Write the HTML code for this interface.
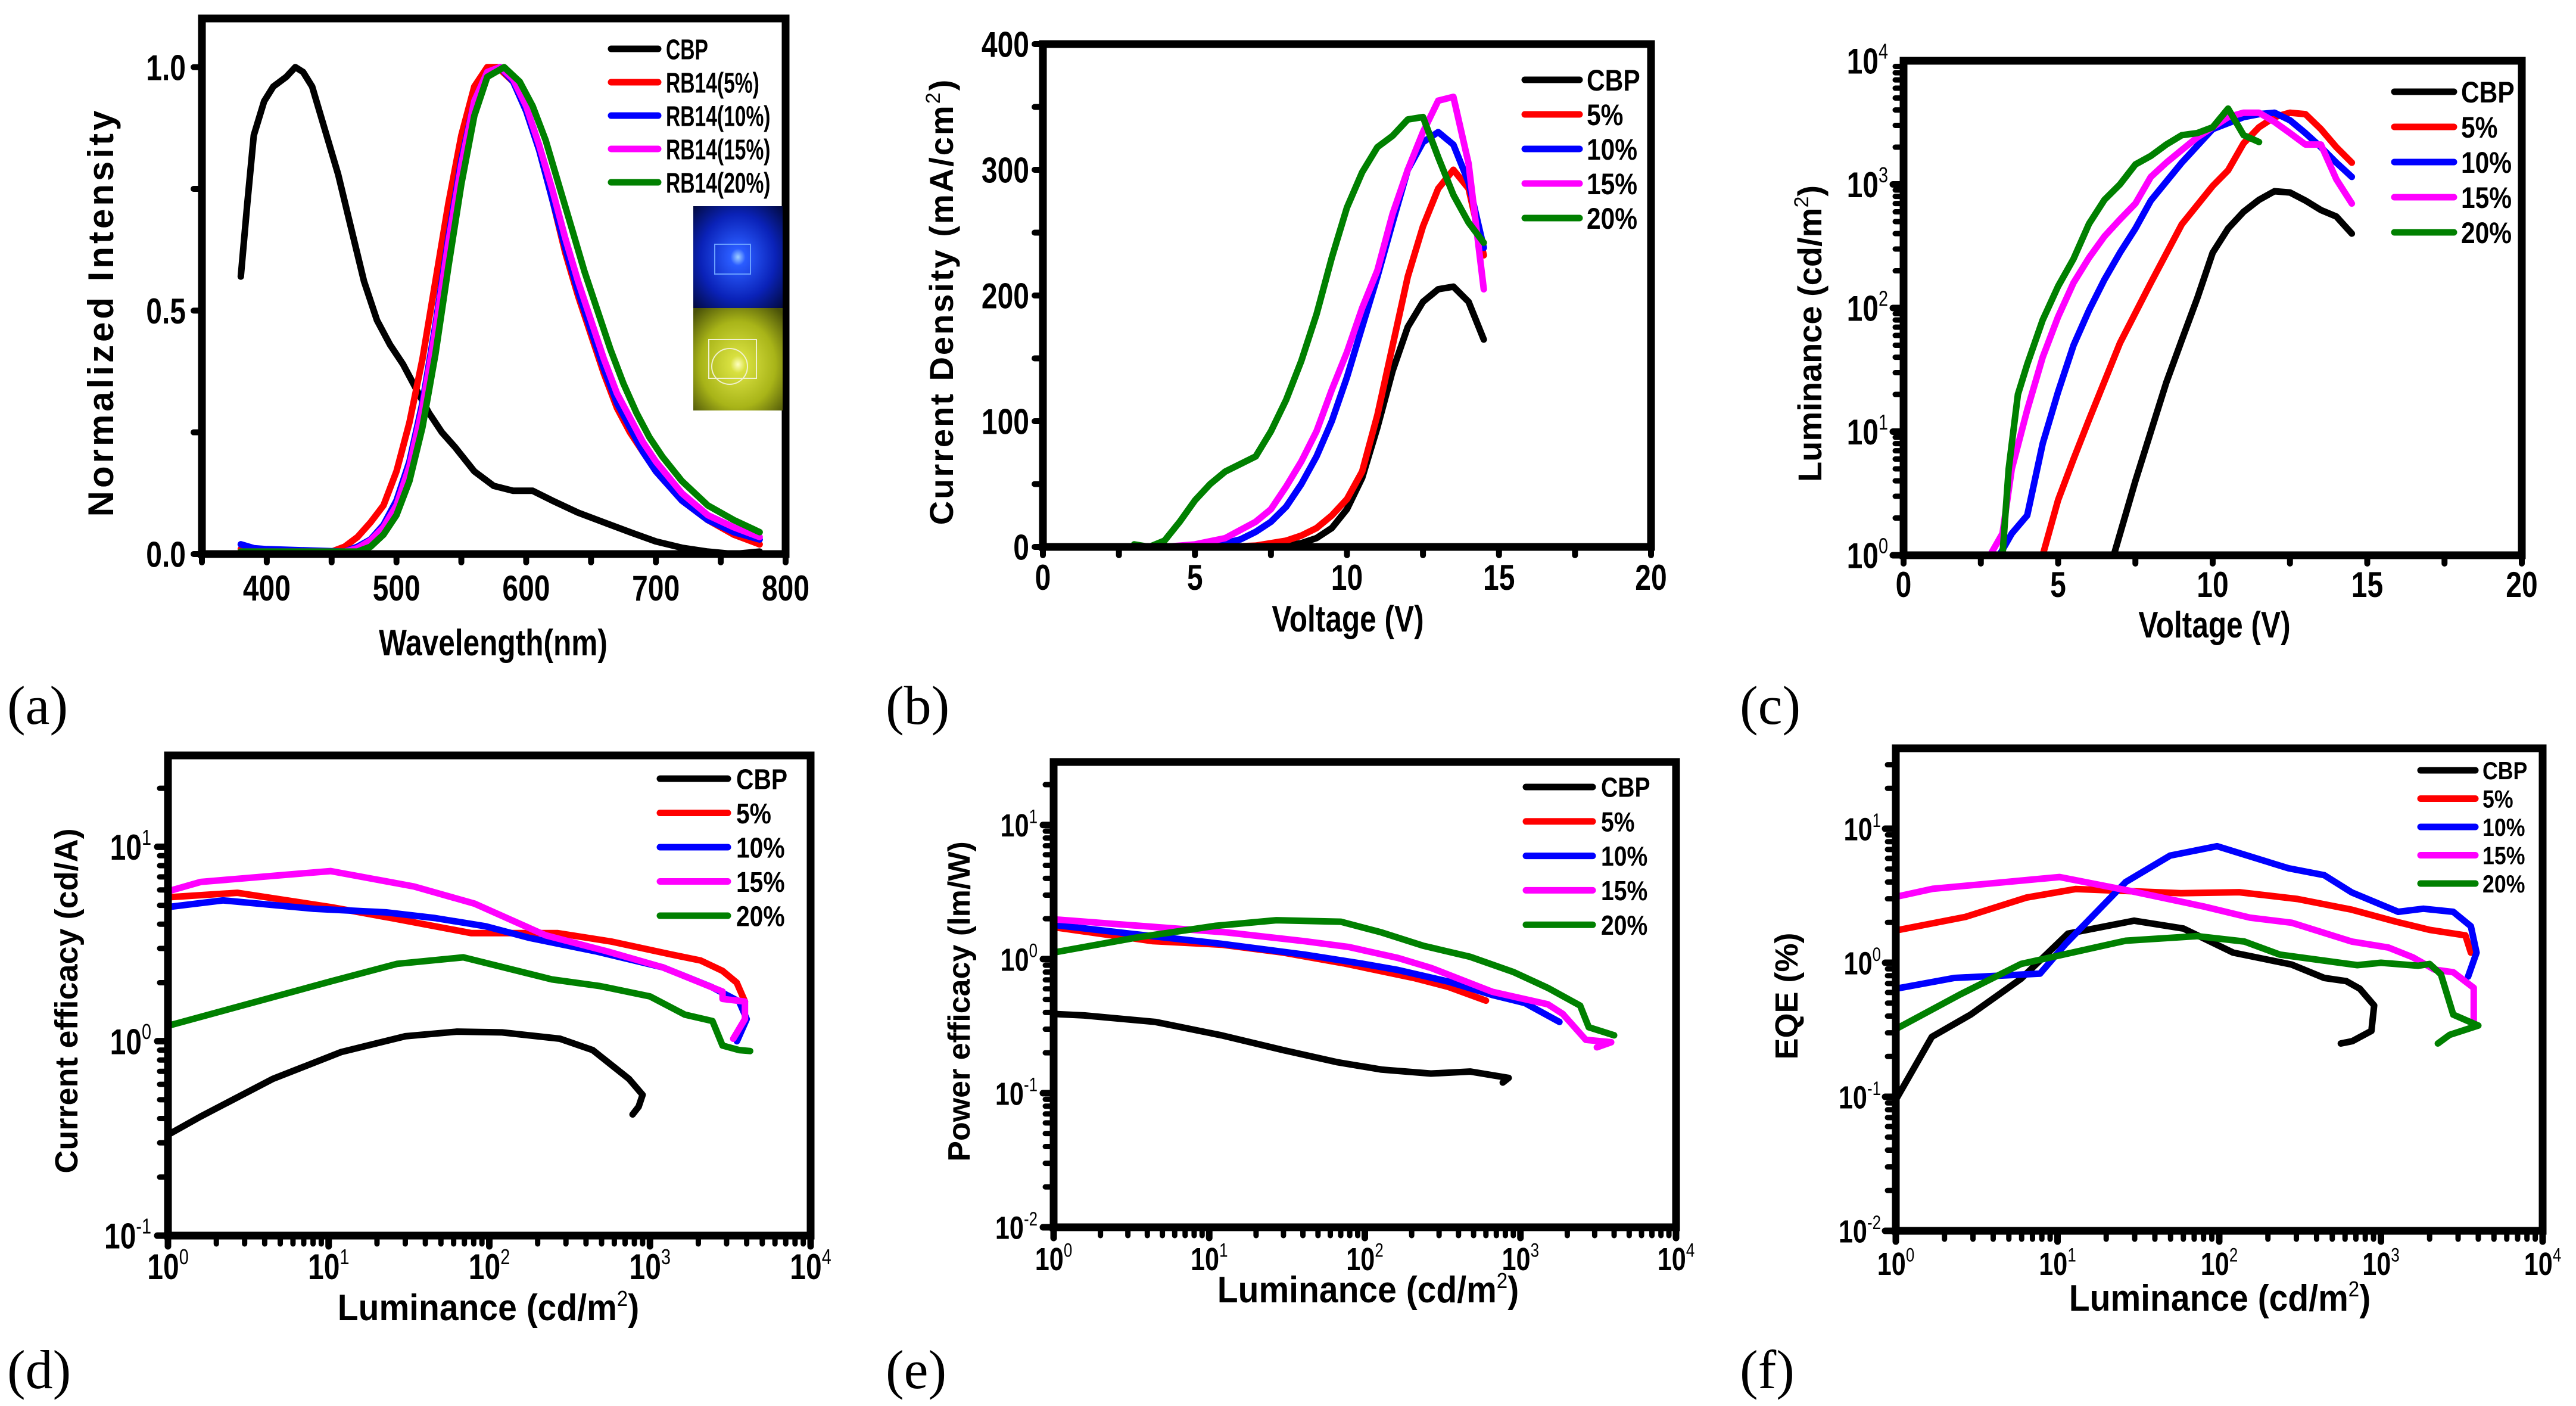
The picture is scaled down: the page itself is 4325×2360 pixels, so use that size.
<!DOCTYPE html>
<html><head><meta charset="utf-8"><title>OLED characteristics</title>
<style>
html,body{margin:0;padding:0;background:#fff;}
svg{display:block;}
text{font-family:"Liberation Sans Narrow","Liberation Sans",sans-serif;font-weight:bold;fill:#000;}
.serif{font-family:"Liberation Serif",serif;font-weight:normal;}
.wide{font-family:"Liberation Sans",sans-serif;}
</style></head>
<body>
<svg id="chart" width="4325" height="2360" viewBox="0 0 4325 2360" xmlns="http://www.w3.org/2000/svg">
<defs>
<radialGradient id="gBlue" cx="0.5" cy="0.5" r="0.7"><stop offset="0" stop-color="#9fd0ff"/><stop offset="0.12" stop-color="#2a5cff"/><stop offset="0.6" stop-color="#0a22b8"/><stop offset="1" stop-color="#020a40"/></radialGradient>
<radialGradient id="gYel" cx="0.5" cy="0.55" r="0.7"><stop offset="0" stop-color="#ffffc0"/><stop offset="0.12" stop-color="#d8e040"/><stop offset="0.6" stop-color="#a8b418"/><stop offset="1" stop-color="#4a5208"/></radialGradient>
</defs>
</svg>
<script>
// ---------- data (a) EL spectra ----------
const legA=["CBP","RB14(5%)","RB14(10%)","RB14(15%)","RB14(20%)"];
const aCBP=[[380,0.57],[385,0.72],[390,0.86],[398,0.93],[405,0.96],[415,0.98],[422,1.0],[428,0.99],[435,0.96],[445,0.87],[455,0.78],[465,0.67],[475,0.56],[485,0.48],[495,0.43],[505,0.39],[515,0.34],[525,0.29],[535,0.25],[545,0.22],[560,0.17],[575,0.14],[590,0.13],[605,0.13],[620,0.11],[640,0.085],[660,0.065],[680,0.045],[700,0.026],[720,0.013],[740,0.005],[760,0.0],[780,0.005]];
const a5=[[380,0.01],[450,0.005],[460,0.015],[470,0.035],[480,0.065],[490,0.10],[500,0.17],[510,0.27],[520,0.40],[530,0.56],[540,0.72],[550,0.86],[560,0.96],[570,1.0],[578,1.0],[590,0.97],[600,0.91],[610,0.83],[620,0.73],[630,0.62],[640,0.53],[650,0.45],[660,0.37],[670,0.30],[680,0.25],[690,0.21],[700,0.17],[720,0.11],[740,0.07],[760,0.04],[780,0.02]];
const a10=[[380,0.02],[390,0.012],[400,0.01],[460,0.005],[470,0.015],[480,0.03],[490,0.06],[500,0.11],[510,0.19],[520,0.31],[530,0.47],[540,0.65],[550,0.81],[560,0.93],[570,0.99],[580,1.0],[590,0.97],[600,0.91],[610,0.83],[620,0.73],[630,0.63],[640,0.54],[650,0.46],[660,0.38],[670,0.31],[680,0.26],[690,0.21],[700,0.17],[720,0.11],[740,0.07],[760,0.045],[780,0.03]];
const a15=[[380,0.005],[460,0.005],[470,0.012],[480,0.028],[490,0.055],[500,0.10],[510,0.18],[520,0.30],[530,0.46],[540,0.64],[550,0.80],[560,0.93],[570,0.99],[580,1.0],[590,0.975],[600,0.92],[610,0.84],[620,0.75],[630,0.65],[640,0.56],[650,0.48],[660,0.40],[670,0.33],[680,0.28],[690,0.23],[700,0.19],[720,0.125],[740,0.08],[760,0.055],[780,0.035]];
const a20=[[380,0.005],[470,0.005],[480,0.015],[490,0.04],[500,0.08],[510,0.15],[520,0.26],[530,0.41],[540,0.59],[550,0.76],[560,0.90],[570,0.98],[583,1.0],[595,0.97],[605,0.92],[615,0.85],[625,0.76],[635,0.67],[645,0.58],[655,0.50],[665,0.42],[675,0.35],[685,0.29],[695,0.24],[705,0.20],[720,0.15],[740,0.10],[760,0.07],[780,0.045]];
const ticksAx=[400,500,600,700,800];
const ticksAy=[0.0,0.5,1.0];
const labAy=["0.0","0.5","1.0"];
// ---------- data (b) J-V ----------
const legB=["CBP","5%","10%","15%","20%"];
const bCBP=[[0,0],[7.5,0],[8,1],[8.5,3],[9,7],[9.5,15],[10,30],[10.5,55],[11,95],[11.5,140],[12,175],[12.5,195],[13,205],[13.5,207],[14,195],[14.5,165]];
const b5=[[0,0],[6,0],[7,1],[8,5],[8.5,9],[9,15],[9.5,25],[10,38],[10.5,60],[11,105],[11.5,160],[12,215],[12.5,255],[13,285],[13.5,300],[14,285],[14.5,232]];
const b10=[[0,0],[5.5,0],[6,3],[6.5,6],[7,12],[7.5,20],[8,32],[8.5,50],[9,72],[9.5,100],[10,135],[10.5,175],[11,215],[11.5,258],[12,300],[12.5,322],[13,330],[13.5,320],[14,290],[14.5,238]];
const b15=[[0,0],[4,0],[5,2],[6,7],[7,20],[7.5,30],[8,48],[8.5,68],[9,92],[9.5,125],[10,155],[10.5,190],[11,220],[11.5,265],[12,300],[12.5,330],[13,355],[13.5,358],[14,305],[14.5,205]];
const b20=[[3,2],[3.5,0],[4,5],[4.5,20],[5,37],[5.5,50],[6,60],[7,72],[7.5,92],[8,117],[8.5,148],[9,185],[9.5,230],[10,270],[10.5,298],[11,318],[11.5,327],[12,340],[12.5,342],[13,310],[13.5,280],[14,258],[14.5,242]];
const ticksBx=[0,5,10,15,20];
const ticksBy=[0,100,200,300,400];
// ---------- data (c) L-V ----------
const cCBP=[[6.8,1],[7.5,4],[8,10],[8.5,25],[9,55],[9.5,120],[10,280],[10.5,440],[11,600],[11.5,750],[12,880],[12.5,860],[13,740],[13.5,620],[14,550],[14.5,400]];
const c5=[[4.5,1],[5,2.8],[5.5,6],[6,12.5],[7,52],[8,160],[9,475],[10,970],[10.5,1300],[11,2150],[11.5,2900],[12,3500],[12.5,3800],[13,3700],[13.5,2800],[14,2000],[14.5,1500]];
const c10=[[3.1,1],[3.5,1.5],[4,2.1],[4.5,8],[5,21],[5.5,50],[6,96],[6.5,170],[7,280],[7.5,440],[8,740],[9,1500],[10,2800],[11,3500],[11.5,3700],[12,3800],[12.5,3300],[13,2600],[13.5,2000],[14,1500],[14.5,1150]];
const c15=[[2.8,1],[3.2,1.5],[3.5,5],[4,15],[4.5,40],[5,85],[5.5,160],[6,255],[6.5,380],[7,520],[7.5,700],[8,1150],[8.5,1500],[9,1900],[9.5,2400],[10,2900],[10.5,3500],[11,3800],[11.5,3800],[12,3200],[12.5,2600],[13,2100],[13.5,2100],[14,1100],[14.5,700]];
const c20=[[3.2,1],[3.4,5],[3.7,20],[4,35],[4.5,80],[5,150],[5.5,250],[6,480],[6.5,750],[7,1000],[7.5,1450],[8,1700],[8.5,2100],[9,2500],[9.5,2600],[10,2900],[10.5,4100],[11,2500],[11.5,2200]];
const ticksCy=[0,1,2,3,4];
// ---------- data (d) current efficacy ----------
const dCBP=[[1,0.33],[1.6,0.41],[4.5,0.64],[12,0.88],[30,1.06],[63,1.12],[120,1.11],[275,1.03],[440,0.9],[740,0.64],[900,0.53],[850,0.46],[780,0.42]];
const d5=[[1,5.5],[2.7,5.8],[10.3,4.9],[24.6,4.3],[77,3.6],[140,3.6],[265,3.6],[580,3.25],[1340,2.8],[2070,2.6],[2830,2.3],[3470,2.0],[3900,1.6]];
const d10=[[1,4.9],[2.2,5.3],[8.1,4.8],[22.7,4.6],[46,4.3],[95,3.9],[178,3.4],[460,2.9],[1200,2.4],[2420,1.9],[3590,1.6],[4000,1.3],[3480,1.0]];
const d15=[[1,5.9],[1.6,6.6],[10.3,7.5],[34,6.25],[81,5.1],[225,3.5],[540,2.9],[1200,2.4],[2830,1.8],[2830,1.65],[3900,1.6],[3900,1.3],[3300,1.03]];
const d20=[[1,1.2],[10.3,2.03],[26.7,2.5],[69,2.7],[245,2.08],[490,1.92],[1000,1.7],[1650,1.37],[2450,1.27],[2830,0.95],[3590,0.9],[4200,0.89]];
const ticksDy=[-1,0,1];
const ticksLx=[0,1,2,3,4];
// ---------- data (e) power efficacy ----------
const eCBP=[[1,0.39],[1.57,0.38],[4.5,0.34],[12,0.27],[29.6,0.21],[67,0.17],[128,0.15],[266,0.14],[475,0.145],[840,0.13],[770,0.12]];
const e5=[[1,1.73],[4.35,1.36],[12,1.28],[29.6,1.12],[73,0.93],[210,0.72],[344,0.62],[600,0.49]];
const e10=[[1,1.8],[3.55,1.52],[12,1.3],[41,1.08],[93,0.93],[163,0.83],[344,0.68],[660,0.54],[1070,0.47],[1780,0.34]];
const e15=[[1,1.98],[13,1.58],[41,1.36],[79,1.23],[163,1.02],[266,0.86],[660,0.57],[1500,0.46],[1870,0.39],[2630,0.25],[3830,0.24],[3100,0.22],[3400,0.23]];
const e20=[[1,1.12],[3.55,1.46],[11,1.77],[27,1.95],[70,1.9],[128,1.58],[236,1.26],[475,1.04],[905,0.8],[1500,0.61],[1870,0.53],[2420,0.45],[2750,0.31],[4000,0.27]];
const ticksEy=[-2,-1,0,1];
// ---------- data (f) EQE ----------
const fCBP=[[1,0.095],[1.67,0.28],[2.9,0.41],[5.95,0.76],[11.6,1.65],[29.8,2.06],[60,1.8],[122,1.19],[280,0.97],[446,0.77],[610,0.73],[740,0.64],[908,0.48],[873,0.31],[665,0.26],[565,0.25]];
const f5=[[1,1.74],[2.7,2.2],[6.4,3.06],[13,3.55],[58,3.3],[133,3.36],[305,2.99],[660,2.49],[1250,2.02],[2000,1.76],[3330,1.6],[3600,1.19]];
const f10=[[1,0.64],[2.3,0.77],[7.8,0.83],[11.2,1.38],[26.4,4.0],[49.7,6.3],[97,7.4],[268,5.07],[446,4.5],[660,3.35],[1280,2.4],[1830,2.53],[2800,2.4],[3600,1.87],[3900,1.19],[3460,0.79]];
const f15=[[1,3.1],[1.69,3.56],[10.3,4.36],[28.6,3.42],[80,2.63],[155,2.17],[280,1.99],[660,1.44],[1110,1.3],[1570,1.1],[2140,0.89],[2800,0.85],[3750,0.65],[3750,0.36]];
const f20=[[1,0.32],[2.5,0.58],[5.95,0.98],[26.4,1.46],[73,1.58],[143,1.44],[237,1.15],[715,0.96],[1000,1.0],[1700,0.95],[2000,0.98],[2350,0.82],[2800,0.41],[4000,0.34],[2660,0.29],[2250,0.25]];
const ticksFy=[-2,-1,0,1];

const COLORS=["#000000","#ff0000","#0000ff","#ff00ff","#008000"];
const NS="http://www.w3.org/2000/svg";
const NARROW=0.8;
const svg=document.getElementById('chart');
function mk(tag,parent){const e=document.createElementNS(NS,tag);parent.appendChild(e);return e;}
function set(e,o){for(const k in o)e.setAttribute(k,o[k]);return e;}
function place(t,x,y,sx){set(t,{x:0,y:0,transform:'translate('+x+','+y+') scale('+(sx||NARROW)+',1)'});}
function linS(d0,d1,r0,r1){return v=>r0+(v-d0)/(d1-d0)*(r1-r0);}
function logS(e0,e1,r0,r1){return v=>r0+(Math.log10(v)-e0)/(e1-e0)*(r1-r0);}

function supLabel(g,x,y,base,exp,size,anchor){
  const t=mk('text',g);
  
  
  set(t,{'font-size':size,'text-anchor':anchor});
  place(t,x,y);
  t.appendChild(document.createTextNode(base));
  const s=mk('tspan',t);
  set(s,{dy:-size*0.42,'font-size':size*0.6,'font-weight':'normal'});
  s.textContent=exp;
  return t;
}

function panel(P){
  const g=mk('g',svg);
  
  
  const X=P.xlog?logS(P.x0,P.x1,P.L,P.R):linS(P.x0,P.x1,P.L,P.R);
  const Y=P.ylog?logS(P.y0,P.y1,P.B,P.T):linS(P.y0,P.y1,P.B,P.T);
  const cid='clip-'+P.name;
  const cp=mk('clipPath',g);set(cp,{id:cid});
  const cr=mk('rect',cp);set(cr,{x:P.L,y:P.T-10,width:P.R-P.L,height:P.B-P.T+10});
  const sg=mk('g',g);set(sg,{'clip-path':'url(#'+cid+')'});
  
  
  P.series.forEach((s,i)=>{
    const p=mk('path',sg);
    
    
    const d=s.map((pt,j)=>(j?'L':'M')+X(pt[0]).toFixed(1)+','+Y(pt[1]).toFixed(1)).join(' ');
    set(p,{d:d,fill:'none',stroke:COLORS[i],'stroke-width':P.sw||11,'stroke-linejoin':'round','stroke-linecap':'round'});
  });
  const tg=mk('g',g);
  
  
  function tick(x1,y1,x2,y2,w){const l=mk('line',tg);set(l,{x1:x1,y1:y1,x2:x2,y2:y2,stroke:'#000','stroke-width':w,'stroke-linecap':'round'});}
  const TL=14;
  if(P.xlog){for(let e=P.x0;e<P.x1;e++)for(let m=1;m<10;m++){const x=X(m*Math.pow(10,e));tick(x,P.B,x,P.B+(m==1?TL+4:TL),m==1?11:9);} tick(P.R,P.B,P.R,P.B+TL+4,11);}
  else{for(let v=P.x0;v<=P.x1+1e-9;v+=P.xminor){const x=X(v);tick(x,P.B,x,P.B+TL,10);}}
  if(P.ylog){for(let e=Math.floor(P.y0);e<P.y1;e++)for(let m=1;m<10;m++){const v=m*Math.pow(10,e);if(Math.log10(v)>P.y1+1e-6||Math.log10(v)<P.y0-1e-6)continue;const y=Y(v);tick(P.L,y,P.L-(m==1?TL+4:TL),y,m==1?11:9);} }
  else{for(let v=P.y0;v<=P.y1+1e-9;v+=P.yminor){const y=Y(v);tick(P.L,y,P.L-TL,y,10);}}
  const f=mk('rect',g);
  
  
  set(f,{x:P.L,y:P.T,width:P.R-P.L,height:P.B-P.T,fill:'none',stroke:'#000','stroke-width':13});
  const fs=P.tfs||60;
  P.xt.forEach((v,i)=>{
    if(P.xlog){supLabel(g,X(Math.pow(10,v)),P.xlb,'10',String(v),fs,'middle');}
    else{const t=mk('text',g);
      
      
      set(t,{'font-size':fs,'text-anchor':'middle'});place(t,X(v),P.xlb);t.textContent=P.xtl?P.xtl[i]:String(v);}
  });
  P.yt.forEach((v,i)=>{
    if(P.ylog){const yy=Y(Math.pow(10,v));supLabel(g,P.ylr,yy+fs*0.36,'10',String(v),fs,'end');}
    else{const t=mk('text',g);
      
      
      set(t,{'font-size':fs,'text-anchor':'end'});place(t,P.ylr,Y(v)+fs*0.36);t.textContent=P.ytl?P.ytl[i]:String(v);}
  });
  const xt=mk('text',g);
  
  
  set(xt,{'font-size':P.xtfs||62,'text-anchor':'middle'});
  place(xt,P.xtx,P.xty,P.xsx||NARROW);
  if(P.xsup){xt.appendChild(document.createTextNode(P.xtitle[0]));const s=mk('tspan',xt);set(s,{dy:-24,'font-size':36,'font-weight':'normal'});s.textContent='2';const s2=mk('tspan',xt);set(s2,{dy:24});s2.textContent=P.xtitle[1];}
  else xt.textContent=P.xtitle;
  const yt=mk('text',g);
  
  
  set(yt,{x:0,y:0,'font-size':P.ytfs||58,'text-anchor':'middle',class:'wide',transform:'translate('+P.ytx+','+P.yty+') rotate(-90)'});
  if(P.yls)yt.setAttribute('letter-spacing',P.yls);
  if(P.ysup){yt.appendChild(document.createTextNode(P.ytitle[0]));const s=mk('tspan',yt);set(s,{dy:-22,'font-size':34,'font-weight':'normal'});s.textContent='2';const s2=mk('tspan',yt);set(s2,{dy:22});s2.textContent=P.ytitle[1];}
  else yt.textContent=P.ytitle;
  const lg=mk('g',g);
  
  
  P.legend.forEach((n,i)=>{
    const y=P.legY[i];
    const l=mk('line',lg);
    
    
    set(l,{x1:P.legX0,x2:P.legX1,y1:y,y2:y,stroke:COLORS[i],'stroke-width':P.sw||11,'stroke-linecap':'round'});
    const t=mk('text',lg);
    
    
    set(t,{'font-size':P.lfs});
    place(t,P.legTx,y+P.lfs*0.36,P.lsx||0.85);
    t.textContent=n;
  });
  const pl=mk('text',g);
  
  
  set(pl,{x:P.plx,y:P.ply,'font-size':92,class:'serif'});
  pl.textContent=P.pl;
  return g;
}

const legY5=(a,b)=>[0,1,2,3,4].map(i=>a+i*b);

panel({name:'panel-a-el-spectra',L:339,R:1319,T:31,B:930,x0:350,x1:800,y0:0,y1:1.1,xminor:50,yminor:0.25,
  series:[aCBP,a5,a10,a15,a20],legend:legA,xt:ticksAx,yt:ticksAy,ytl:labAy,xlb:1008,ylr:312,
  xtitle:'Wavelength(nm)',xtx:828,xty:1100,ytitle:'Normalized Intensity',ytx:190,yty:524,ytfs:60,yls:5,
  legX0:1026,legX1:1105,legTx:1118,legY:legY5(82,56),lfs:48,lsx:0.7,pl:'(a)',plx:12,ply:1215});
(function(){
  const ig=mk('g',svg);
  
  
  const r1=mk('rect',ig);
  
  
  set(r1,{x:1164,y:346,width:150,height:171,fill:'url(#gBlue)'});
  const r2=mk('rect',ig);
  
  
  set(r2,{x:1164,y:517,width:150,height:172,fill:'url(#gYel)'});
  const p1=mk('rect',ig);set(p1,{x:1200,y:410,width:60,height:50,fill:'none',stroke:'#6aa0ff','stroke-width':2});
  const p2=mk('circle',ig);set(p2,{cx:1225,cy:615,r:30,fill:'none',stroke:'#f0f0d0','stroke-width':2});
  const p3=mk('rect',ig);set(p3,{x:1190,y:570,width:80,height:65,fill:'none',stroke:'#f0f0d0','stroke-width':2});
})();

panel({name:'panel-b-current-density',L:1751,R:2772,T:74,B:918,x0:0,x1:20,y0:0,y1:400,xminor:2.5,yminor:50,
  series:[bCBP,b5,b10,b15,b20],legend:legB,xt:ticksBx,yt:ticksBy,xlb:990,ylr:1728,
  xtitle:'Voltage (V)',xtx:2263,xty:1060,ysup:true,ytitle:['Current Density (mA/cm',')'],ytx:1600,yty:506,ytfs:56,yls:3,
  legX0:2560,legX1:2652,legTx:2664,legY:legY5(134,58),lfs:50,pl:'(b)',plx:1487,ply:1215});

panel({name:'panel-c-luminance',L:3196,R:4234,T:102,B:932,x0:0,x1:20,ylog:true,y0:0,y1:4,xminor:2.5,
  series:[cCBP,c5,c10,c15,c20],legend:legB,xt:ticksBx,yt:ticksCy,xlb:1002,ylr:3170,
  xtitle:'Voltage (V)',xtx:3718,xty:1070,ysup:true,ytitle:['Luminance (cd/m',')'],ytx:3058,yty:560,ytfs:56,
  legX0:4020,legX1:4120,legTx:4132,legY:legY5(154,59),lfs:50,pl:'(c)',plx:2921,ply:1215});

panel({name:'panel-d-current-efficacy',L:282,R:1361,T:1268,B:2074,xlog:true,x0:0,x1:4,ylog:true,y0:-1,y1:1.47,
  series:[dCBP,d5,d10,d15,d20],legend:legB,xt:ticksLx,yt:ticksDy,xlb:2147,ylr:254,
  xsup:true,xtitle:['Luminance (cd/m',')'],xtx:820,xty:2216,xsx:0.92,ytitle:'Current efficacy (cd/A)',ytx:130,yty:1680,ytfs:54,
  legX0:1108,legX1:1222,legTx:1236,legY:legY5(1307,57.5),lfs:48,pl:'(d)',plx:12,ply:2330});

panel({name:'panel-e-power-efficacy',L:1769,R:2814,T:1279,B:2060,xlog:true,x0:0,x1:4,ylog:true,y0:-2,y1:1.47,
  series:[eCBP,e5,e10,e15,e20],legend:legB,xt:ticksLx,yt:ticksEy,xlb:2132,ylr:1742,
  xsup:true,xtitle:['Luminance (cd/m',')'],xtx:2297,xty:2186,xsx:0.92,ytitle:'Power efficacy (lm/W)',ytx:1628,yty:1681,ytfs:52,
  legX0:2562,legX1:2674,legTx:2688,legY:legY5(1321,57.8),lfs:46,pl:'(e)',plx:1487,ply:2330,tfs:54});

panel({name:'panel-f-eqe',L:3183,R:4269,T:1256,B:2066,xlog:true,x0:0,x1:4,ylog:true,y0:-2,y1:1.6,
  series:[fCBP,f5,f10,f15,f20],legend:legB,xt:ticksLx,yt:ticksFy,xlb:2140,ylr:3158,
  xsup:true,xtitle:['Luminance (cd/m',')'],xtx:3727,xty:2200,xsx:0.92,ytitle:'EQE (%)',ytx:3018,yty:1672,ytfs:54,
  legX0:4064,legX1:4156,legTx:4168,legY:legY5(1293,47.5),lfs:42,pl:'(f)',plx:2921,ply:2330,tfs:54});
</script>
</body></html>
